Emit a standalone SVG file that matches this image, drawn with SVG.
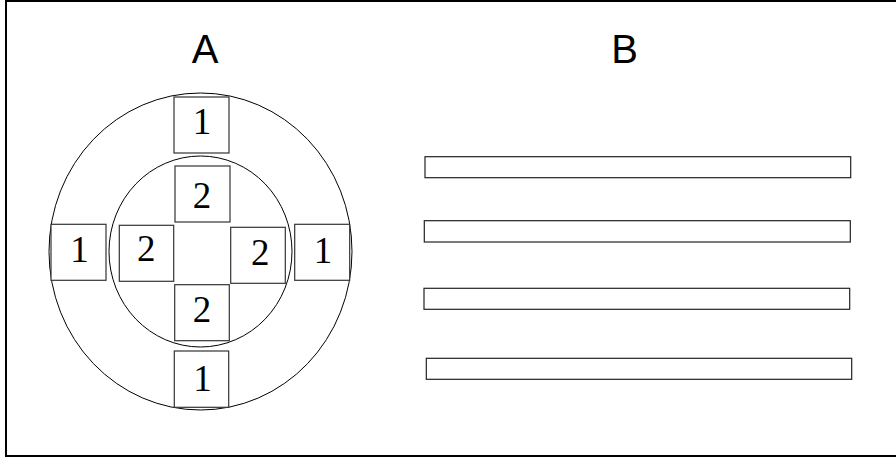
<svg xmlns="http://www.w3.org/2000/svg" width="896" height="459" viewBox="0 0 896 459">
<style>
.frame{fill:#fff;stroke:#000;stroke-width:2}
.ring{fill:none;stroke:#000;stroke-width:1}
.box{fill:#fff;stroke:#333;stroke-width:1.2}
.bar{fill:#fff;stroke:#222;stroke-width:1.2}
.num{font-family:"Liberation Serif",serif;font-size:37px;fill:#000;text-anchor:middle}
.lbl{font-family:"Liberation Sans",sans-serif;font-size:40px;fill:#000;text-anchor:middle}
</style>
<rect class="frame" x="6" y="1" width="900" height="455"/>
<g id="labels">
<text class="lbl" x="205" y="62.5">A</text>
<text class="lbl" x="624.5" y="62.5">B</text>
</g>
<g id="rings">
<ellipse class="ring" cx="200.5" cy="251.5" rx="151.5" ry="158.5"/>
<ellipse class="ring" cx="200.5" cy="251.5" rx="91.5" ry="95.5"/>
</g>
<g id="box-top1"><rect class="box" x="174" y="97" width="55" height="56"/><text class="num" x="202" y="134.3">1</text></g>
<g id="box-top2"><rect class="box" x="175" y="166" width="55" height="56"/><text class="num" x="202" y="207.7">2</text></g>
<g id="box-left1"><rect class="box" x="51" y="224.3" width="55" height="56"/><text class="num" x="79.5" y="262.3">1</text></g>
<g id="box-left2"><rect class="box" x="119.3" y="225.3" width="54.4" height="56"/><text class="num" x="146.3" y="261.3">2</text></g>
<g id="box-right2"><rect class="box" x="230.7" y="227.3" width="54.6" height="56"/><text class="num" x="260.3" y="265">2</text></g>
<g id="box-right1"><rect class="box" x="294.7" y="224.3" width="55" height="56"/><text class="num" x="323" y="263.3">1</text></g>
<g id="box-bottom2"><rect class="box" x="174.7" y="284.7" width="54.6" height="56"/><text class="num" x="202" y="321.7">2</text></g>
<g id="box-bottom1"><rect class="box" x="174.3" y="351" width="54.4" height="56.3"/><text class="num" x="202.5" y="390.7">1</text></g>
<g id="bars">
<rect id="bar1" class="bar" x="425" y="156.7" width="425.7" height="21"/>
<rect id="bar2" class="bar" x="424.3" y="220.7" width="426" height="21.3"/>
<rect id="bar3" class="bar" x="424" y="288.3" width="425.7" height="21"/>
<rect id="bar4" class="bar" x="426.3" y="358.3" width="425.4" height="21"/>
</g>
<g id="connectors"/>
</svg>
